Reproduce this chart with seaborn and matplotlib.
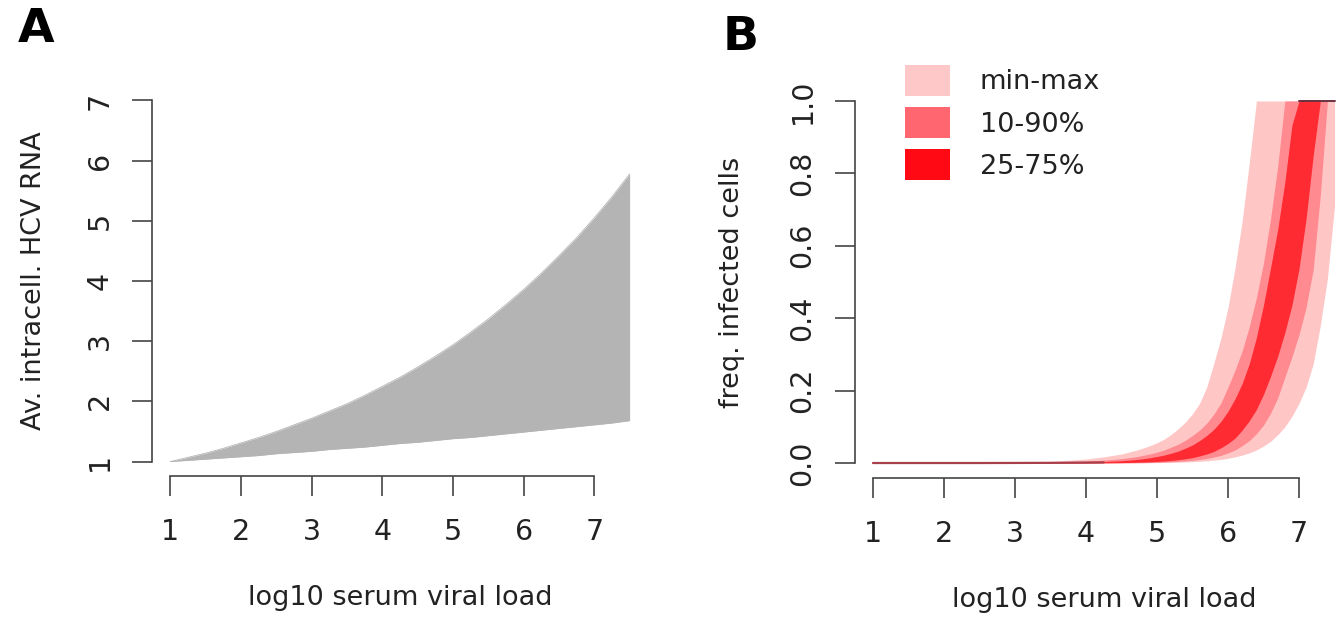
import numpy as np
import pandas as pd
import matplotlib
matplotlib.use("Agg")
import matplotlib.pyplot as plt
from matplotlib.patches import Patch
import seaborn as sns

# ---------------- data ----------------
# Panel A: band of average intracellular HCV RNA vs log10 serum viral load
x_a = [1.0, 1.25, 1.5, 1.75, 2.0, 2.25, 2.5, 2.75, 3.0, 3.25, 3.5, 3.75, 4.0, 4.25,
       4.5, 4.75, 5.0, 5.25, 5.5, 5.75, 6.0, 6.25, 6.5, 6.75, 7.0, 7.25, 7.5]
rna_upper = [1.00, 1.07, 1.14, 1.22, 1.31, 1.40, 1.50, 1.61, 1.72, 1.84, 1.96, 2.10, 2.25, 2.40,
             2.57, 2.75, 2.94, 3.15, 3.37, 3.61, 3.86, 4.13, 4.42, 4.72, 5.05, 5.40, 5.78]
rna_lower = [1.00, 1.02, 1.04, 1.06, 1.08, 1.10, 1.13, 1.15, 1.17, 1.20, 1.22, 1.24, 1.27, 1.30,
             1.32, 1.35, 1.38, 1.40, 1.43, 1.46, 1.49, 1.52, 1.55, 1.58, 1.61, 1.64, 1.68]

# Panel B: frequency of infected cells, quantile bands
x_b = [1.0, 1.5, 2.0, 2.5, 3.0, 3.5, 4.0, 4.25,
       4.5, 4.6, 4.7, 4.8, 4.9, 5.0, 5.1, 5.2, 5.3, 5.4, 5.5, 5.6, 5.7, 5.8, 5.9,
       6.0, 6.1, 6.2, 6.3, 6.4, 6.5, 6.6, 6.7, 6.8, 6.9, 7.0, 7.1, 7.2, 7.3, 7.4, 7.5]
f_max = [0, 0, 0.0005, 0.001, 0.002, 0.004, 0.011, 0.017,
         0.025, 0.030, 0.035, 0.041, 0.048, 0.056, 0.066, 0.079, 0.095, 0.113, 0.136, 0.165, 0.21, 0.275, 0.345,
         0.43, 0.54, 0.67, 0.83, 1, 1, 1, 1, 1, 1, 1, 1, 1, 1, 1, 1]
f_p90 = [0, 0, 0, 0, 0.001, 0.002, 0.005, 0.008,
         0.012, 0.0145, 0.017, 0.021, 0.025, 0.030, 0.036, 0.044, 0.052, 0.063, 0.076, 0.091, 0.11, 0.135, 0.166,
         0.21, 0.257, 0.31, 0.377, 0.457, 0.553, 0.676, 0.82, 1, 1, 1, 1, 1, 1, 1, 1]
f_p75 = [0, 0, 0, 0, 0.0004, 0.001, 0.0025, 0.004,
         0.0063, 0.0078, 0.0095, 0.0117, 0.0145, 0.018, 0.022, 0.027, 0.033, 0.041, 0.050, 0.062, 0.076, 0.093, 0.115,
         0.143, 0.178, 0.22, 0.275, 0.347, 0.437, 0.54, 0.646, 0.776, 0.933, 1, 1, 1, 1, 1, 1]
f_med = [0, 0, 0, 0, 0.0002, 0.0005, 0.0012, 0.0018,
         0.0027, 0.0034, 0.0044, 0.0055, 0.0069, 0.0087, 0.011, 0.0137, 0.0172, 0.0219, 0.0274, 0.0348, 0.0436, 0.0545, 0.0695,
         0.0879, 0.111, 0.141, 0.179, 0.227, 0.288, 0.36, 0.437, 0.529, 0.638, 0.733, 0.822, 0.922, 1, 1, 1]
f_p25 = [0, 0, 0, 0, 0, 0.0002, 0.0004, 0.0007,
         0.0012, 0.0015, 0.002, 0.0026, 0.0033, 0.0042, 0.0055, 0.007, 0.009, 0.0117, 0.015, 0.0195, 0.025, 0.032, 0.042,
         0.054, 0.069, 0.091, 0.117, 0.148, 0.19, 0.24, 0.295, 0.36, 0.436, 0.537, 0.676, 0.85, 1, 1, 1]
f_p10 = [0, 0, 0, 0, 0, 0, 0.0001, 0.0002,
         0.0005, 0.0007, 0.0009, 0.0011, 0.0015, 0.002, 0.0026, 0.0034, 0.0044, 0.0057, 0.0075, 0.0097, 0.0126, 0.0165, 0.021,
         0.028, 0.036, 0.048, 0.062, 0.081, 0.105, 0.138, 0.18, 0.237, 0.293, 0.355, 0.43, 0.535, 0.74, 1, 1]
f_min = [0, 0, 0, 0, 0, 0, 0.0001, 0.0002,
         0.0003, 0.0004, 0.0005, 0.0006, 0.0008, 0.001, 0.0013, 0.0017, 0.0022, 0.0029, 0.0037, 0.0048, 0.006, 0.008, 0.010,
         0.013, 0.017, 0.022, 0.028, 0.036, 0.047, 0.06, 0.078, 0.10, 0.129, 0.165, 0.21, 0.274, 0.38, 0.51, 0.71]

x_ticks = [1, 2, 3, 4, 5, 6, 7]
y_ticks_a = [1, 2, 3, 4, 5, 6, 7]
y_ticks_b = [0.0, 0.2, 0.4, 0.6, 0.8, 1.0]
y_ticklabels_b = ["0.0", "0.2", "0.4", "0.6", "0.8", "1.0"]
band_labels = ["min-max", "10-90%", "25-75%"]

# ---------------- style ----------------
sns.set_theme(style="ticks")
plt.rcParams["font.family"] = ["DejaVu Sans"]
TXT = "#222222"
AX = "#444444"
FS = 19.5
TFS = 20.5

W, H = 1338, 623
fig = plt.figure(figsize=(W / 100, H / 100), dpi=100)

ax_a = fig.add_axes([152 / W, (H - 476) / H, 496 / W, 390 / H])
ax_b = fig.add_axes([854.5 / W, (H - 477.5) / H, 498.5 / W, 391 / H])

# ---------------- panel A ----------------
dfa = pd.DataFrame({"x": x_a, "up": rna_upper, "lo": rna_lower})
ax_a.fill_between(dfa["x"], dfa["lo"], dfa["up"], color="#b4b4b4", linewidth=0)
sns.lineplot(data=dfa, x="x", y="up", ax=ax_a, color="#b4b4b4", lw=0.6)
sns.lineplot(data=dfa, x="x", y="lo", ax=ax_a, color="#b4b4b4", lw=0.6)
ax_a.set_xlim(0.74, 7.76)
ax_a.set_ylim(0.76, 7.24)
ax_a.set_xticks(x_ticks)
ax_a.set_yticks(y_ticks_a)
ax_a.set_xticklabels([str(v) for v in x_ticks])
ax_a.set_yticklabels([str(v) for v in y_ticks_a])
ax_a.set_xlabel("log10 serum viral load", fontsize=FS, color=TXT, labelpad=28)
ax_a.set_ylabel("Av. intracell. HCV RNA", fontsize=FS, color=TXT, labelpad=28)

# ---------------- panel B ----------------
dfb = pd.DataFrame({"x": x_b, "max": f_max, "p90": f_p90, "p75": f_p75,
                    "med": f_med, "p25": f_p25, "p10": f_p10, "min": f_min})
ax_b.fill_between(dfb["x"], dfb["min"], dfb["max"], color="#ffc6c6", linewidth=0)
ax_b.fill_between(dfb["x"], dfb["p10"], dfb["p90"], color="#ff8a90", linewidth=0)
ax_b.fill_between(dfb["x"], dfb["p25"], dfb["p75"], color="#ff2b33", linewidth=0)
# dark traces where the bands collapse (baseline) and saturate (top)
base = dfb.assign(med=np.where(dfb["max"] <= 0.02, dfb["med"], np.nan))
sns.lineplot(data=base, x="x", y="med", ax=ax_b, color="#a8404c", lw=1.6)
top = dfb.assign(p75=np.where(dfb["p75"] >= 1, dfb["p75"], np.nan))
sns.lineplot(data=top, x="x", y="p75", ax=ax_b, color="#6a3040", lw=1.4)
ax_b.set_xlim(0.74, 7.76)
ax_b.set_ylim(-0.04, 1.04)
ax_b.set_xticks(x_ticks)
ax_b.set_yticks(y_ticks_b)
ax_b.set_xticklabels([str(v) for v in x_ticks])
ax_b.set_yticklabels(y_ticklabels_b)
ax_b.set_xlabel("log10 serum viral load", fontsize=FS, color=TXT, labelpad=28)
ax_b.set_ylabel("freq. infected cells", fontsize=FS, color=TXT, labelpad=31)

for ax in (ax_a, ax_b):
    sns.despine(ax=ax, trim=True)
    for s in ("left", "bottom"):
        ax.spines[s].set_color(AX)
        ax.spines[s].set_linewidth(1.2)
    ax.tick_params(axis="both", length=14.4, width=1.2, color=AX,
                   labelsize=TFS, labelcolor=TXT)
    ax.tick_params(axis="x", pad=16)
    ax.tick_params(axis="y", pad=13, labelrotation=90)
    for t in ax.get_yticklabels():
        t.set_va("center")
    ax.set_facecolor("white")
    ax.grid(False)

# legend
handles = [Patch(facecolor="#ffc8c8", edgecolor="none"),
           Patch(facecolor="#ff6670", edgecolor="none"),
           Patch(facecolor="#ff0a14", edgecolor="none")]
fig.legend(handles, band_labels, loc="upper left",
           bbox_to_anchor=(905 / W, 1 - 65 / H), frameon=False,
           fontsize=FS, labelcolor=TXT, handlelength=1.66, handleheight=1.37,
           handletextpad=1.1, labelspacing=0.42, borderpad=0, borderaxespad=0)

# panel letters
fig.text(36 / W, 1 - 30 / H, "A", ha="center", va="center",
         fontsize=34, fontweight="bold", color="black")
fig.text(741 / W, 1 - 37 / H, "B", ha="center", va="center",
         fontsize=34, fontweight="bold", color="black")

fig.savefig("out.png", dpi=100, facecolor="white")
